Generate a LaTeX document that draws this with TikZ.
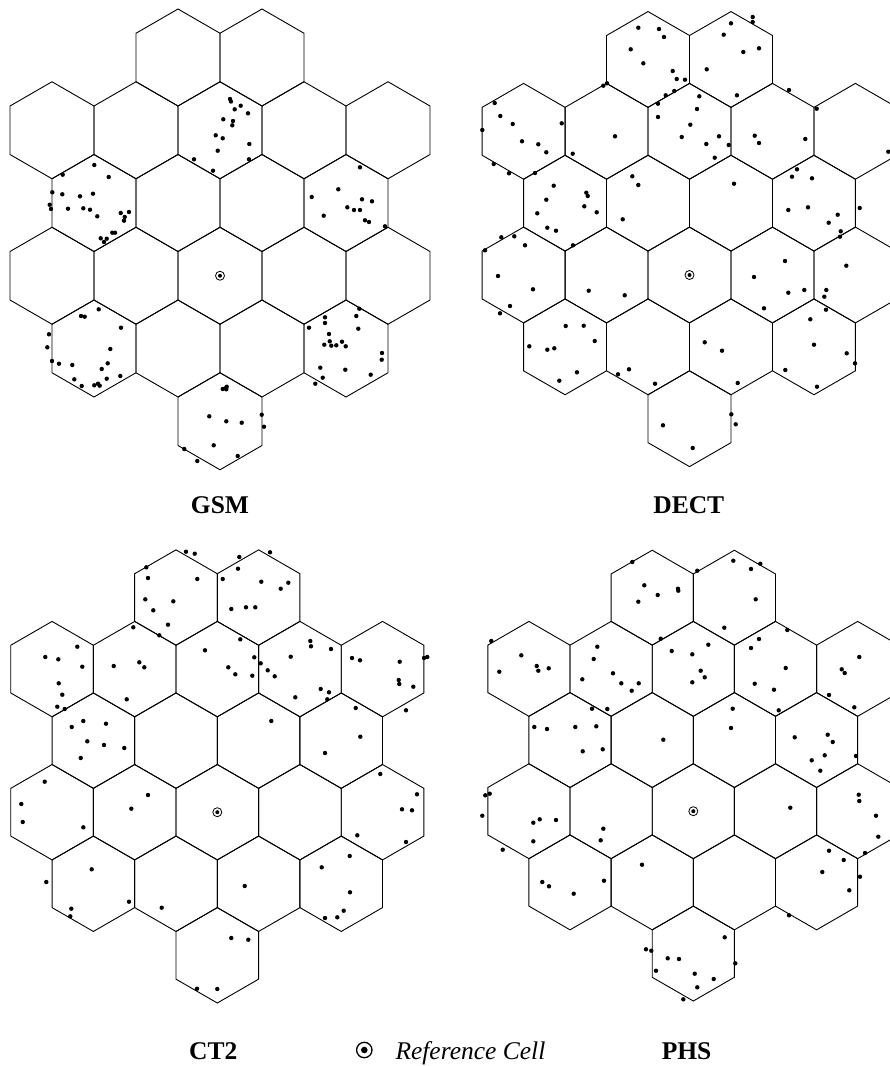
\documentclass[tikz,border=0pt]{standalone}
\usepackage{fontspec}
\setmainfont{Liberation Serif}
\begin{document}
\tikzset{
  hexline/.style={draw=black, line width=0.9pt, line join=miter},
  mobile/.style={fill=black},
  refring/.style={draw=black, line width=0.8pt},
  tech/.style={font=\fontsize{25.5}{30}\selectfont\bfseries, inner sep=0pt, anchor=base},
  legendtext/.style={font=\fontsize{25.5}{30}\selectfont\itshape, inner sep=0pt, anchor=base west},
}
% 21-cell layout: (half-column offset / row offset) from the reference cell
\newcommand{\cellgrid}[3]{%
  \foreach \a/\r in {-1/-3,1/-3,-4/-2,-2/-2,0/-2,2/-2,4/-2,-3/-1,-1/-1,1/-1,3/-1,
                     -4/0,-2/0,0/0,2/0,4/0,-3/1,-1/1,1/1,3/1,0/2}{%
    \pgfmathsetmacro{\hx}{#1+\a*0.8660254*#3}%
    \pgfmathsetmacro{\hy}{#2+\r*1.5*#3}%
    \draw[hexline,shift={(\hx,\hy)}] (90:#3) -- (30:#3) -- (-30:#3) -- (-90:#3)
      -- (-150:#3) -- (150:#3) -- cycle;
  }%
  \draw[refring] (#1,#2) circle[radius=4.5pt];
  \fill (#1,#2) circle[radius=2pt];
}
\newcommand{\mobiles}[1]{\foreach \u/\v in {#1}{\fill[mobile] (\u,\v) circle[radius=2.2pt];}}
\begin{tikzpicture}[x=1pt,y=-1pt]
\useasboundingbox (0,0) rectangle (890,1066);

% ---------------- GSM ----------------
\cellgrid{220}{275.75}{48.5}
\mobiles{230/99, 231/101.5, 240.7/105.7, 234.7/109.3, 248/113.3, 223.3/119.3, 233/121, 232.3/125.3,
  215.7/135.3, 222.7/138.3, 249.3/144, 217.7/150.7, 194/159.3, 249/159.3, 213/170.7,
  94.3/165, 62.7/174.7, 108.7/177, 52.3/192.3, 62.3/194.3, 80/196.3, 93/193.7, 49.7/204.7, 51/209,
  68/208.7, 83.3/208.3, 90/209.7, 97.3/216.3, 120.7/213, 129/212, 124.7/217, 124/220.7,
  112.3/232.7, 115/232.7, 100.7/238.3, 106.7/238.7, 104/242,
  360/167.3, 338.3/189.3, 311.7/197, 362/199.3, 372/201.3, 347.3/207.3, 354/210, 360/210,
  323.7/215.7, 365/220.3, 369/222, 385/226.3,
  98.7/309.3, 81/316, 84.7/316.7, 121/327.7, 49/334.3, 47.3/347.3, 110.3/349, 52/361, 59/363.7,
  72.3/365, 107.7/363.3, 101.7/369, 120.3/376, 106.7/378.7, 74.3/379.3, 81.7/386, 94.3/385.3,
  98/383.7, 99.7/385.7,
  359.3/308.7, 325/317.3, 356.3/316, 325/323, 358.3/328.7, 309/327.7, 329/334, 329.7/341.3,
  342/341.7, 324.3/344.7, 331.3/345.7, 336.3/345.3, 345.7/346.3, 382/353, 381.7/359.7,
  320.3/367.7, 345.3/369.7, 370.7/374.7, 322.7/377.7, 315.3/383.7,
  222.7/389, 225.3/388.3, 226.7/386.7, 226.3/389.3, 209.3/416.3, 226.3/421.3, 241.7/422.7,
  261.7/414.7, 264/426.7, 213.7/445.3, 184.3/449, 197.3/461, 237.7/456}

% ---------------- DECT ----------------
\cellgrid{689.5}{275}{47.9}
\mobiles{752.7/17, 752.7/22, 638.3/27.7, 659/29, 664/37, 731/23.3, 723.7/34.7, 630.7/49.3, 759/48.3,
  743.3/52, 643.3/63.3, 706.7/69.3, 672.7/71, 676.7/79, 685/79.7, 607/83.3, 603.3/85.7, 674.3/91,
  665.7/95.3, 699.3/96.3, 737/95.3, 789/90, 658/103.7, 816.7/108.7, 697/109, 658/117, 494.7/103,
  500.3/116, 561.7/123.3, 512.7/124, 690.3/124.7, 482.3/130, 615/136.3, 681.7/137, 719/136.3,
  754.7/135.7, 759/143, 805.3/139, 522/141.3, 538.3/144.3, 706.3/144, 728.7/145, 546.3/152.3,
  572.7/153.7, 714.7/157.7, 888.3/151.7, 493.7/164, 509/173.3, 535/173, 797/169.3, 792/176.7,
  812/178.3, 632.3/176.3, 638.3/185, 734/183.7, 553.7/185.7, 586.3/192.7, 587.7/196, 546.3/199.7,
  584.3/206.3, 596.7/212.3, 537.3/213.3, 788.3/210, 808/207.3, 859.7/208, 837.7/214.7,
  828.7/222.7, 622.7/219.3, 547.3/227.7, 556/230.7, 840.7/231.3, 840/236.7, 501.3/237.3,
  514.3/236.3,
  485/250.3, 525/245.3, 573/245.3, 498/276, 533/289.3, 510/306, 500/313.3, 588.7/290.7,
  624.7/295.3, 785/261, 846.3/265.7, 754/277, 788.3/292.7, 804.3/290, 826.3/290, 824.3/296.7,
  826/309.7, 764/308.3, 810.3/319.3, 565.7/326, 583.7/325.7, 594.7/341, 529.3/346.3, 547.3/349.7,
  554.3/348.3, 704.7/342.3, 722/350.7, 814/344.7, 846.7/353.3, 855/363.3, 629/369.3, 618/374.3,
  655/383.7, 577/372.3, 559.3/380.7, 737.7/383, 785.3/370, 817/386.7, 731.3/414.3, 735.7/424.3,
  663/425.3, 692.7/448}

% ---------------- CT2 ----------------
\cellgrid{217.3}{812.2}{47.7}
\mobiles{186/551.7, 194.7/553.7, 270/552.3, 239.3/557, 238/568.7, 146.3/567.3, 148/578, 197.3/579,
  222.7/579, 261.3/581.7, 288.3/582.7, 280.7/588.7, 145.3/599.3, 173.3/601.3, 153.3/610.3,
  231.3/609, 246/607.3, 255.3/607.3, 168/624.7, 133.3/627.3, 159.3/635.3, 240.3/639.3, 310.3/641,
  311/646.3, 331/649, 77.3/646.7, 205/650.3, 290.7/656.7, 352/658, 360/660.3, 399.7/661.7,
  424/658, 427.3/657, 45.3/657, 58.3/659.3, 82.3/666.7, 113.7/666, 139.3/662.3, 144.3/667.3,
  254.3/657.3, 260.7/663.3, 228.3/667.3, 267.7/670.3, 274.7/676.3, 235.3/674.3, 252.3/675.7,
  398.7/680, 399.3/684, 413.3/686.7, 58.7/683.3, 62.3/694.7, 320.7/689, 329/692.3, 327.3/699.3,
  295.3/697.3, 57.3/706.7, 64.7/709, 126.7/699.3, 355.7/708, 406/710.3, 83.3/721, 106/723.7,
  71.7/727, 271.3/721, 87.3/741.3, 104/745, 124.3/748, 360.3/736.7, 325/753, 80.7/758,
  380.3/774, 44.7/781.7,
  21.3/804, 22.7/822, 83.3/827.3, 148/795, 131.3/808.7, 417/794.3, 402/809.3, 412/810.3,
  357.3/835.3, 406/842, 91.7/869.3, 46.3/882, 129/901.7, 71.3/908.7, 70.3/916.3, 161.7/907.7,
  244.7/886, 349.7/856, 321.7/867.3, 350/892.3, 343.7/910.7, 337.3/917.3, 325/918, 231.3/938,
  248.3/939.7, 197/988.7, 217.3/989}

% ---------------- PHS ----------------
\cellgrid{693.3}{811.2}{47.45}
\mobiles{632.3/562, 697.3/570.7, 733.3/560.7, 760.3/563.7, 751/569, 644.3/585.3, 678/588.7,
  678.3/590.7, 657.7/595, 638.3/601.7, 755.7/599.3, 724.3/627.7, 787.3/630, 660.7/638.7, 759/639,
  751/648, 708.3/644.7, 671.7/651, 692.3/654.3, 597.3/646.7, 593.7/659, 491.3/641, 521.3/655.3,
  536.7/666, 538.3/670.7, 548.7/668.3, 499.3/671.7, 859.3/657, 841.7/669.3, 844.7/673,
  785.7/668, 700.7/670.7, 704.7/677.3, 692.3/682.3, 613/673.3, 582.3/679.3, 621.3/683.3,
  638.7/683.3, 631.7/690.7, 754.7/683.7, 774/689.7, 829/695, 854.3/707.3, 778.7/710.3,
  592/708.7, 607.3/709, 732.7/708.7, 534.3/727, 547/729, 575.3/727, 596.3/726.3, 731/728,
  663.3/739.7, 794.7/737.3, 827.7/734.7, 832.7/742, 582.7/751.3, 602.7/749.3, 824.7/755.3,
  856/756, 811.7/760.3, 820.3/770.7,
  485.3/795.3, 489.7/793.7, 482.3/815.7, 533.3/822.7, 539.7/819.3, 556/820, 533.3/841.3,
  502.7/849.7, 603.3/828.7, 600.7/840.3, 790.3/807.7, 858.7/794.7, 859.3/801, 876/815.7,
  878.3/836.7, 865/853, 829/850.7, 843.7/860, 822.3/872, 860/876.7, 849.3/890.3, 789/915.3,
  642/864.7, 542.3/882, 549/886.3, 573.7/893.7, 604/880.7, 724.7/937.3, 646/949.3, 651.3/950.7,
  667.7/958.3, 679/959, 735.3/963.3, 656/970.7, 694.7/973.7, 713.7/979, 697.3/987.3, 683.3/999.3}

% ---------------- labels and legend ----------------
\node[tech] (gsm) at (220,513.3) {GSM};
\node[tech] (dect) at (688.8,513.3) {DECT};
\node[tech] (ct2) at (213.3,1059) {CT2};
\node[tech] (phs) at (686.6,1059) {PHS};
\draw[line width=1.3pt] (364.3,1050) circle[radius=7.7pt];
\fill (364.3,1050) circle[radius=3.3pt];
\node[legendtext] (reflabel) at (395.3,1059) {Reference Cell};
\end{tikzpicture}
\end{document}
